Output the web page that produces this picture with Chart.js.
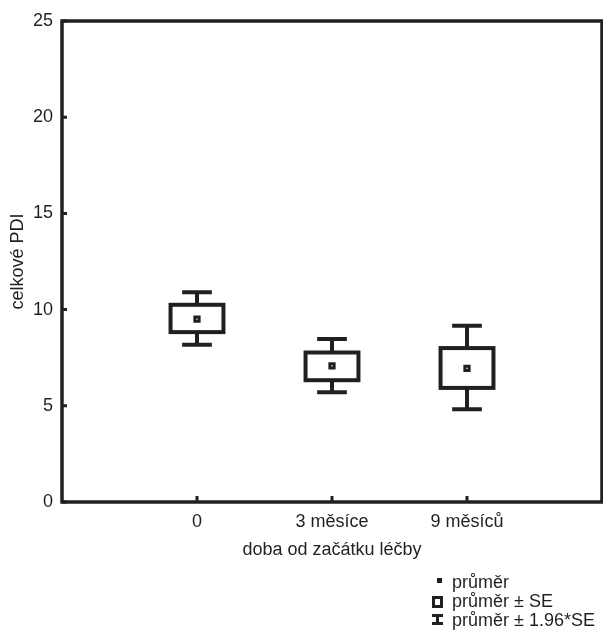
<!DOCTYPE html>
<html><head><meta charset="utf-8">
<script src="https://cdn.jsdelivr.net/npm/chart.js@4"></script>
<style>
html,body{margin:0;padding:0;background:#fff;}
#wrap{position:relative;width:603px;height:634px;overflow:hidden;}
canvas{position:absolute;left:0;top:0;}
.row{position:absolute;left:452px;height:20px;line-height:20px;font:18px "Liberation Sans",Arial,sans-serif;color:#231f20;white-space:nowrap;}
.mk{position:absolute;box-sizing:border-box;}
</style></head><body>
<div id="wrap">
<canvas id="c" width="603" height="634"></canvas>
<div id="legend"></div>
</div>
<script>
const categories = ['0', '3 měsíce', '9 měsíců'];
const xPositions = [1, 2, 3];
const means  = [9.51, 7.07, 6.95];
const seLow  = [8.83, 6.33, 5.93];
const seHigh = [10.25, 7.77, 8.00];
const ciLow  = [8.17, 5.70, 4.82];
const ciHigh = [10.90, 8.47, 9.16];
const yTicks = [0, 5, 10, 15, 20, 25];
const legendLabels = ['průměr', 'průměr ± SE', 'průměr ± 1.96*SE'];
const xTitle = 'doba od začátku léčby';
const yTitle = 'celkové PDI';

const INK = '#231f20';
const FONT = '"Liberation Sans", Arial, sans-serif';

// legend (HTML text)
const leg = document.getElementById('legend');
const rowsY = [572, 591, 610];
legendLabels.forEach((t, i) => {
  const r = document.createElement('div');
  r.className = 'row'; r.style.top = rowsY[i] + 'px'; r.textContent = t;
  leg.appendChild(r);
});
function mk(l, t, w, h, css) {
  const d = document.createElement('div');
  d.className = 'mk';
  d.style.left = l + 'px'; d.style.top = t + 'px'; d.style.width = w + 'px'; d.style.height = h + 'px';
  Object.assign(d.style, css);
  leg.appendChild(d);
}
mk(437, 578, 5, 5, {background: INK});
mk(432, 596, 11, 12, {border: '3px solid ' + INK});
mk(432, 614, 11, 3, {background: INK});
mk(436, 614, 3, 11, {background: INK});
mk(432, 622, 11, 3, {background: INK});

const boxPlugin = {
  id: 'boxes',
  beforeDatasetsDraw(chart) {
    const {ctx, scales: {x, y}} = chart;
    ctx.save();
    ctx.strokeStyle = INK;
    ctx.lineWidth = 4;
    ctx.lineCap = 'butt';
    xPositions.forEach((xv, i) => {
      const cx = x.getPixelForValue(xv);
      const bw = x.getPixelForValue(xv + 0.196) - cx;
      const cw = x.getPixelForValue(xv + 0.11) - cx;
      const yCiH = y.getPixelForValue(ciHigh[i]);
      const yCiL = y.getPixelForValue(ciLow[i]);
      const ySeH = y.getPixelForValue(seHigh[i]);
      const ySeL = y.getPixelForValue(seLow[i]);
      ctx.beginPath();
      ctx.moveTo(cx, yCiH); ctx.lineTo(cx, ySeH);
      ctx.moveTo(cx, ySeL); ctx.lineTo(cx, yCiL);
      ctx.moveTo(cx - cw, yCiH); ctx.lineTo(cx + cw, yCiH);
      ctx.moveTo(cx - cw, yCiL); ctx.lineTo(cx + cw, yCiL);
      ctx.stroke();
      ctx.fillStyle = '#fff';
      ctx.fillRect(cx - bw, ySeH, 2 * bw, ySeL - ySeH);
      ctx.strokeRect(cx - bw, ySeH, 2 * bw, ySeL - ySeH);
    });
    ctx.restore();
  },
  afterDraw(chart) {
    const {ctx, chartArea: a, scales: {x, y}} = chart;
    ctx.save();
    ctx.strokeStyle = INK;
    ctx.lineWidth = 3.5;
    ctx.strokeRect(a.left, a.top, a.right - a.left, a.bottom - a.top);
    ctx.lineWidth = 3;
    ctx.beginPath();
    y.ticks.forEach(t => {
      const py = y.getPixelForValue(t.value);
      ctx.moveTo(a.left, py); ctx.lineTo(a.left + 5, py);
    });
    x.ticks.forEach(t => {
      const px = x.getPixelForValue(t.value);
      ctx.moveTo(px, a.bottom); ctx.lineTo(px, a.bottom - 6);
    });
    ctx.stroke();
    ctx.restore();
  }
};

new Chart(document.getElementById('c'), {
  type: 'scatter',
  data: {
    datasets: [{
      label: legendLabels[0],
      data: xPositions.map((xv, i) => ({x: xv, y: means[i]})),
      pointStyle: 'rect',
      pointRadius: 3.0,
      pointHoverRadius: 3.0,
      backgroundColor: '#fff',
      borderColor: INK,
      borderWidth: 3
    }]
  },
  options: {
    responsive: false,
    animation: false,
    events: [],
    layout: {autoPadding: false, padding: {top: 21, right: 1, left: 0, bottom: 73}},
    plugins: {legend: {display: false}, tooltip: {enabled: false}},
    scales: {
      x: {
        type: 'linear', min: 0, max: 4,
        afterBuildTicks: s => { s.ticks = xPositions.map(v => ({value: v})); },
        afterFit: s => { s.height = 59; s.paddingLeft = 0; s.paddingRight = 0; },
        grid: {display: false, drawTicks: false},
        border: {display: false},
        ticks: {
          autoSkip: false, maxRotation: 0, padding: 9, color: INK,
          font: {family: FONT, size: 18},
          callback: v => { const i = xPositions.indexOf(v); return i >= 0 ? categories[i] : ''; }
        },
        title: {display: true, text: xTitle, color: INK, font: {family: FONT, size: 18}, padding: {top: 0, bottom: 0}}
      },
      y: {
        type: 'linear', min: 0, max: 25,
        afterBuildTicks: s => { s.ticks = yTicks.map(v => ({value: v})); },
        afterFit: s => { s.width = 62; s.paddingTop = 0; s.paddingBottom = 0; },
        grid: {display: false, drawTicks: false},
        border: {display: false},
        ticks: {padding: 9, color: INK, font: {family: FONT, size: 18}},
        title: {display: true, text: yTitle, color: INK, font: {family: FONT, size: 18}, padding: {top: 7, bottom: 0}}
      }
    }
  },
  plugins: [boxPlugin]
});
</script>
</body></html>
